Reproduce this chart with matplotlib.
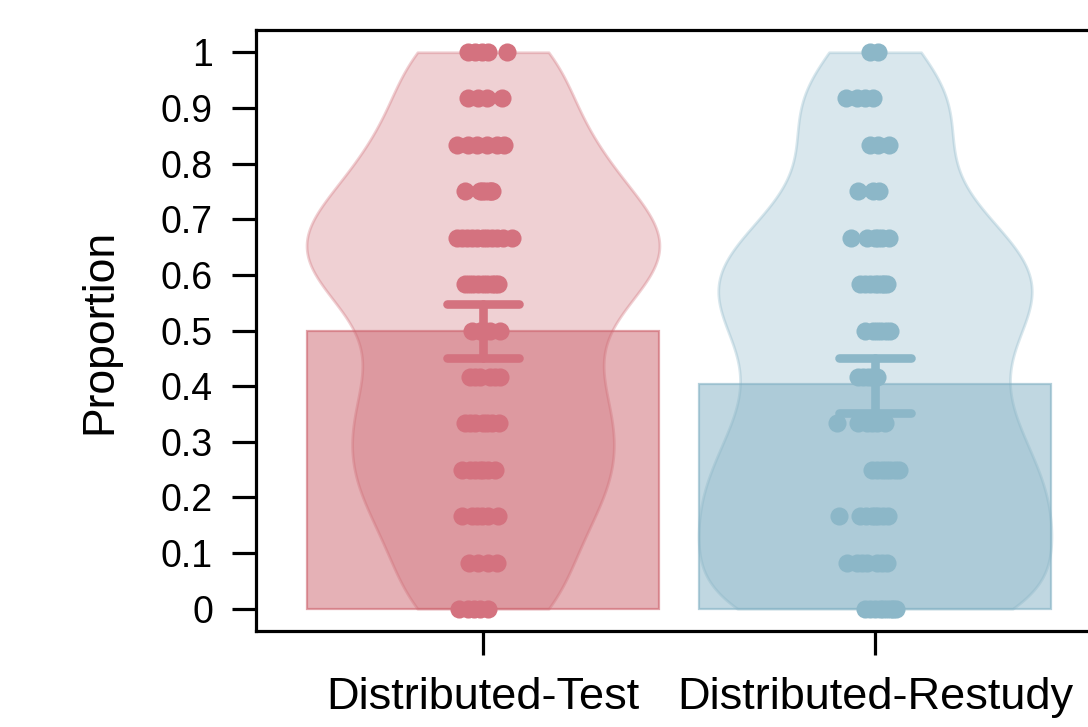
import numpy as np
import matplotlib.pyplot as plt

plt.rcParams['font.family'] = ['Liberation Sans', 'DejaVu Sans']

groups = ["Distributed-Test", "Distributed-Restudy"]
means = [0.500, 0.403]
ci_low = [0.450, 0.352]
ci_high = [0.547, 0.451]
bandwidth = 0.08

# proportion levels (k/12) and the horizontal jitter of each participant's dot
levels = [1.000, 0.917, 0.833, 0.750, 0.667, 0.583, 0.500,
          0.417, 0.333, 0.250, 0.167, 0.083, 0.000]

test_offsets = [
    [-0.038, -0.020, -0.003, 0.013, 0.061],
    [-0.038, -0.013, 0.010, 0.048],
    [-0.066, -0.038, -0.015, 0.010, 0.036, 0.054],
    [-0.046, -0.008, -0.003, 0.005, 0.015, 0.020, 0.023],
    [-0.066, -0.054, -0.041, -0.028, -0.015, 0.000, 0.010, 0.023, 0.036, 0.051, 0.074],
    [-0.046, -0.036, -0.026, -0.013, 0.000, 0.010, 0.023, 0.031, 0.038],
    [-0.028, -0.008, 0.005, 0.018, 0.043],
    [-0.033, -0.020, -0.008, 0.018, 0.030, 0.043],
    [-0.046, -0.033, -0.020, 0.000, 0.010, 0.023, 0.041],
    [-0.054, -0.033, -0.020, -0.008, 0.000, 0.013, 0.031],
    [-0.054, -0.028, -0.015, -0.003, 0.013, 0.038],
    [-0.036, -0.013, 0.013, 0.036],
    [-0.061, -0.038, -0.023, -0.008, 0.013],
]

restudy_offsets = [
    [-0.013, 0.008],
    [-0.074, -0.046, -0.026, -0.005],
    [-0.013, 0.008, 0.036],
    [-0.043, -0.005, 0.010],
    [-0.061, -0.020, 0.000, 0.008, 0.018, 0.036],
    [-0.038, -0.026, -0.013, 0.000, 0.008, 0.018, 0.023, 0.031],
    [-0.026, -0.005, 0.005, 0.015, 0.028, 0.038],
    [-0.043, -0.030, -0.018, -0.008, 0.005],
    [-0.097, -0.043, -0.020, -0.008, 0.005, 0.026],
    [-0.008, 0.005, 0.018, 0.028, 0.038, 0.050, 0.061],
    [-0.092, -0.038, -0.023, -0.008, 0.000, 0.008, 0.020, 0.033],
    [-0.071, -0.046, -0.033, -0.020, 0.005, 0.018, 0.031],
    [-0.026, -0.013, 0.000, 0.013, 0.020, 0.031, 0.041, 0.046, 0.054],
]

base = [(205 / 255, 100 / 255, 110 / 255), (131 / 255, 177 / 255, 196 / 255)]
dot = [(212 / 255, 114 / 255, 127 / 255), (140 / 255, 183 / 255, 200 / 255)]


def expand(offsets):
    ys, xs = [], []
    for lev, offs in zip(levels, offsets):
        ys += [lev] * len(offs)
        xs += offs
    return np.array(ys), np.array(xs)


fig = plt.figure(figsize=(10.88, 7.27), dpi=100)
ax = fig.add_axes([256 / 1088, 96 / 727, 846 / 1088, 601 / 727])

data = [expand(test_offsets), expand(restudy_offsets)]

for i, (ys, xs) in enumerate(data):
    pos = i + 1
    c = base[i]
    f = bandwidth / np.std(ys, ddof=1)
    vp = ax.violinplot([ys], positions=[pos], widths=0.9, showextrema=False,
                       points=300, bw_method=lambda kde, f=f: f)
    for body in vp['bodies']:
        body.set_facecolor((*c, 0.38))
        body.set_edgecolor((*c, 0.6))
        body.set_linewidth(2.0)
        body.set_zorder(1)

    ax.bar(pos, means[i], width=0.9, color=(*c, 0.5), edgecolor=(*c, 0.6),
           linewidth=1.6, zorder=2)

    ax.scatter(pos + xs, ys, s=170, color=dot[i], linewidths=0, zorder=3)

    kw = dict(color=dot[i], lw=6.2, solid_capstyle='round', zorder=4)
    ax.plot([pos, pos], [ci_low[i], ci_high[i]], **kw)
    ax.plot([pos - 0.092, pos + 0.092], [ci_low[i], ci_low[i]], **kw)
    ax.plot([pos - 0.092, pos + 0.092], [ci_high[i], ci_high[i]], **kw)

ax.set_xlim(0.421, 2.579)
ax.set_ylim(-0.04, 1.04)

yt = np.round(np.arange(0, 1.01, 0.1), 1)
ax.set_yticks(yt)
ax.set_yticklabels([f'{v:g}' for v in yt])
ax.set_xticks([1, 2])
ax.set_xticklabels(groups)

for s in ax.spines.values():
    s.set_linewidth(2.3)
ax.tick_params(axis='y', length=17, width=2.3, pad=14, labelsize=27)
ax.tick_params(axis='x', length=17, width=2.3, pad=16, labelsize=32.5)

fig.text(100 / 1088, 1 - 331 / 727, 'Proportion', rotation=90,
         ha='center', va='center', fontsize=32)

fig.savefig('out.png', dpi=100)
